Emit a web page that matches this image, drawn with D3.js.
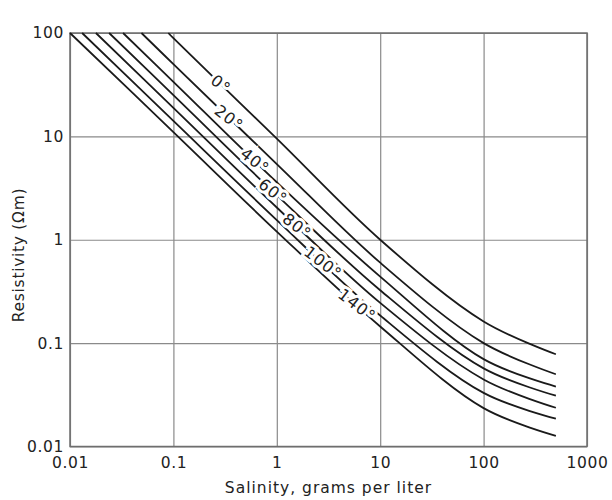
<!DOCTYPE html>
<html>
<head>
<meta charset="utf-8">
<script src="https://cdn.jsdelivr.net/npm/d3@7"></script>
<style>
  body { margin: 0; background: #fff; }
  text { font-family: "DejaVu Sans", sans-serif; fill: #222; }
</style>
</head>
<body>
<div id="chart"></div>
<script>
// temperatures of each curve
const temps = ["0°", "20°", "40°", "60°", "80°", "100°", "140°"];
// salinity where each curve leaves the top (R = 100)
const startSalinity = [0.0893, 0.0491, 0.0326, 0.0239, 0.0178, 0.0131, 0.0100];
// shared salinity points, g/l
const salinity = [0.1, 1, 10, 100, 500];
// resistivity (ohm m) at those salinities, one row per temperature
const resistivity = [
    [89, 9.5, 1.0, 0.162, 0.078],
    [50, 5.4, 0.60, 0.100, 0.050],
    [33.7, 3.6, 0.44, 0.070, 0.038],
    [25.1, 2.7, 0.325, 0.057, 0.031],
    [18.9, 2.05, 0.245, 0.0445, 0.0237],
    [14.1, 1.55, 0.185, 0.033, 0.0186],
    [11, 1.2, 0.145, 0.0235, 0.0127]
];
// salinity where each label sits on its curve
const labelAt = [0.288, 0.345, 0.615, 0.92, 1.57, 2.8, 5.97];
const xTicks = [0.01, 0.1, 1, 10, 100, 1000];
const yTicks = [0.01, 0.1, 1, 10, 100];

const margin = {top: 33, right: 25, bottom: 53.5, left: 70};
const W = 612, H = 500;
const width = W - margin.left - margin.right;
const height = H - margin.top - margin.bottom;

const svg = d3.select("#chart").append("svg")
    .attr("width", W)
    .attr("height", H);

const g = svg.append("g")
    .attr("transform", "translate(" + margin.left + "," + margin.top + ")");

const x = d3.scaleLog().domain([0.01, 1000]).range([0, width]);
const y = d3.scaleLog().domain([0.01, 100]).range([height, 0]);

//grid lines
g.append("g")
    .attr("class", "grid")
    .attr("transform", "translate(0," + height + ")")
    .call(d3.axisBottom(x).tickValues(xTicks).tickSize(-height).tickFormat(""))
    .call(a => a.select(".domain").remove())
    .call(a => a.selectAll("line").attr("stroke", "#8a8a8a").attr("stroke-width", 1.2));

g.append("g")
    .attr("class", "grid")
    .call(d3.axisLeft(y).tickValues(yTicks).tickSize(-width).tickFormat(""))
    .call(a => a.select(".domain").remove())
    .call(a => a.selectAll("line").attr("stroke", "#8a8a8a").attr("stroke-width", 1.2));

//frame
g.append("rect")
    .attr("width", width)
    .attr("height", height)
    .attr("fill", "none")
    .attr("stroke", "#6e6e6e")
    .attr("stroke-width", 1.5);

//tick labels
const fmt = d => d3.format("~g")(d);
g.append("g")
    .attr("transform", "translate(0," + height + ")")
    .call(d3.axisBottom(x).tickValues(xTicks).tickSize(0).tickPadding(10).tickFormat(fmt))
    .call(a => a.select(".domain").remove())
    .call(a => a.selectAll("text").style("font-size", "15.5px").style("letter-spacing", "0.6px").attr("fill", "#222"));

g.append("g")
    .call(d3.axisLeft(y).tickValues(yTicks).tickSize(0).tickPadding(6).tickFormat(fmt))
    .call(a => a.select(".domain").remove())
    .call(a => a.selectAll("text").style("font-size", "15.5px").style("letter-spacing", "0.6px").attr("fill", "#222"));

//axis titles
svg.append("text")
    .attr("x", margin.left + width / 2)
    .attr("y", 493)
    .attr("text-anchor", "middle")
    .style("font-size", "15.5px")
    .style("letter-spacing", "1px")
    .text("Salinity, grams per liter");

svg.append("text")
    .attr("transform", "translate(24,255) rotate(-90)")
    .attr("text-anchor", "middle")
    .style("font-size", "15.5px")
    .style("letter-spacing", "0.7px")
    .text("Resistivity (Ωm)");

//curves
const series = temps.map((t, i) => {
    let pts = [[startSalinity[i], 100]];
    salinity.forEach((s, j) => {
        if (s > startSalinity[i] * 1.05) pts.push([s, resistivity[i][j]]);
    });
    return {temp: t, pts: pts};
});

const line = d3.line()
    .x(d => x(d[0]))
    .y(d => y(d[1]))
    .curve(d3.curveCatmullRom.alpha(0.5));

g.selectAll(".curve")
    .data(series)
    .enter()
    .append("path")
    .attr("class", "curve")
    .attr("d", d => line(d.pts))
    .attr("fill", "none")
    .attr("stroke", "#1a1a1a")
    .attr("stroke-width", 1.8);

//labels sitting on the curves
function pointAt(pts, s) {
    for (let k = 0; k < pts.length - 1; k++) {
        if (s >= pts[k][0] && s <= pts[k + 1][0]) {
            let t = (Math.log(s) - Math.log(pts[k][0])) / (Math.log(pts[k + 1][0]) - Math.log(pts[k][0]));
            let lr = Math.log(pts[k][1]) + t * (Math.log(pts[k + 1][1]) - Math.log(pts[k][1]));
            return [x(s), y(Math.exp(lr))];
        }
    }
    return [0, 0];
}

series.forEach((d, i) => {
    let p = pointAt(d.pts, labelAt[i]);
    g.append("text")
        .attr("transform", "translate(" + p[0] + "," + p[1] + ") rotate(38)")
        .attr("text-anchor", "middle")
        .attr("dy", "0.35em")
        .style("font-size", "16px")
        .style("letter-spacing", "1px")
        .style("paint-order", "stroke")
        .attr("stroke", "#fff")
        .attr("stroke-width", 6)
        .text(d.temp);
});
</script>
</body>
</html>
